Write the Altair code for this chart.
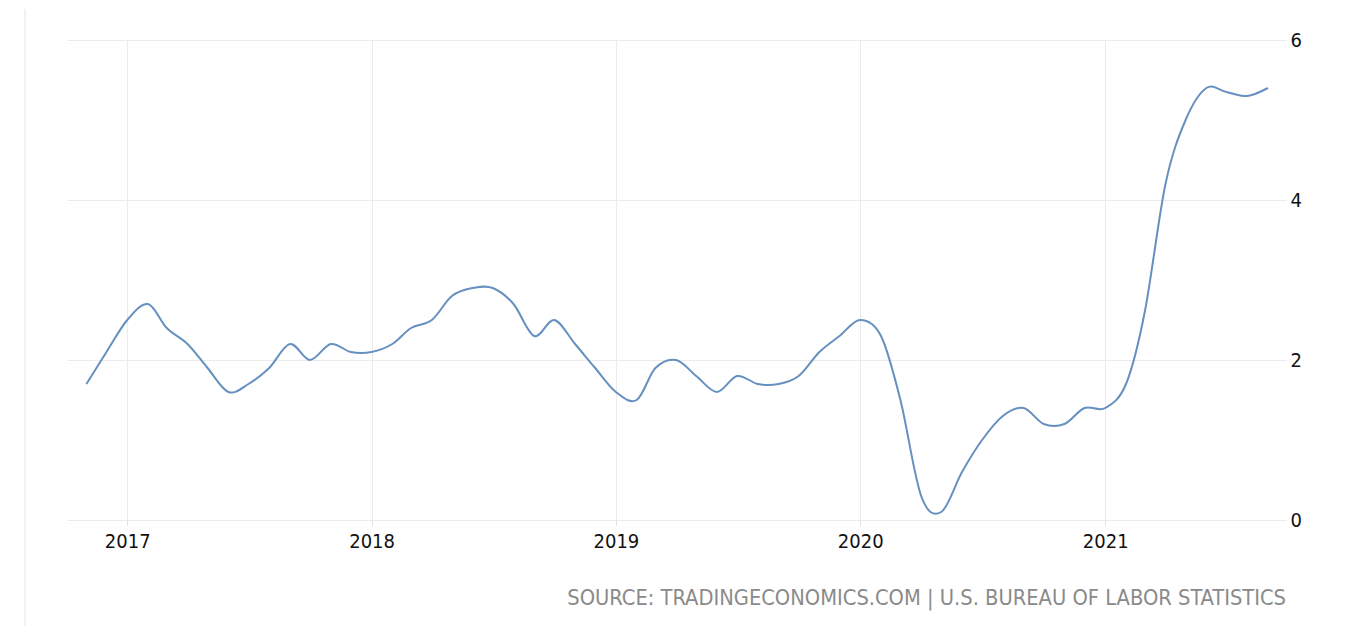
import altair as alt
import pandas as pd

months = pd.date_range("2016-11-01", "2021-09-01", freq="MS").strftime("%Y-%m-%d").tolist()
values = [
    1.7, 2.1,
    2.5, 2.7, 2.4, 2.2, 1.9, 1.6, 1.7, 1.9, 2.2, 2.0, 2.2, 2.1,
    2.1, 2.2, 2.4, 2.5, 2.8, 2.9, 2.9, 2.7, 2.3, 2.5, 2.2, 1.9,
    1.6, 1.5, 1.9, 2.0, 1.8, 1.6, 1.8, 1.7, 1.7, 1.8, 2.1, 2.3,
    2.5, 2.3, 1.5, 0.3, 0.1, 0.6, 1.0, 1.3, 1.4, 1.2, 1.2, 1.4,
    1.4, 1.7, 2.6, 4.2, 5.0, 5.4, 5.35, 5.3, 5.4,
]
year_ticks = ["2017-01-01", "2018-01-01", "2019-01-01", "2020-01-01", "2021-01-01"]
y_ticks = [0, 2, 4, 6]
source_text = "SOURCE: TRADINGECONOMICS.COM | U.S. BUREAU OF LABOR STATISTICS"

df = pd.DataFrame({"date": months, "value": values})

FONT = "DejaVu Sans Condensed"

line = alt.Chart(df).mark_line(
    color="#6690c0", strokeWidth=2, interpolate="cardinal"
).encode(
    x=alt.X(
        "date:T",
        scale=alt.Scale(domain=["2016-10-03", "2021-09-28"]),
        axis=alt.Axis(
            values=year_ticks, format="%Y", title=None, grid=True,
            gridColor="#ebebeb", domain=False, tickColor="#dddddd",
            tickSize=5, labelFontSize=20, labelColor="#111111",
            labelFont=FONT, labelPadding=6, labelFlush=False,
        ),
    ),
    y=alt.Y(
        "value:Q",
        scale=alt.Scale(domain=[0, 6], nice=False, zero=True),
        axis=alt.Axis(
            orient="right", values=y_ticks, title=None, grid=True,
            gridColor="#ebebeb", domain=False, ticks=False,
            labelFontSize=20, labelColor="#111111", labelFont=FONT,
            labelPadding=4, labelBaseline="middle",
        ),
    ),
)

border = alt.Chart(df).mark_rule(color="#f2f2f2", strokeWidth=2).encode(
    x=alt.value(-42), y=alt.value(-31), y2=alt.value(590)
)

source = alt.Chart(pd.DataFrame({"t": [source_text]})).mark_text(
    align="right", baseline="alphabetic", fontSize=21.7, font=FONT, color="#8a8a8a"
).encode(
    x=alt.value(1219), y=alt.value(565), text="t:N"
)

chart = alt.layer(border, line, source).properties(
    width=1219, height=480, autosize="none", background="white",
    padding={"left": 67, "top": 40, "right": 82, "bottom": 106},
).configure_view(strokeWidth=0, stroke="transparent")

chart.save("out.html", embed_options={"renderer": "svg", "actions": False})
